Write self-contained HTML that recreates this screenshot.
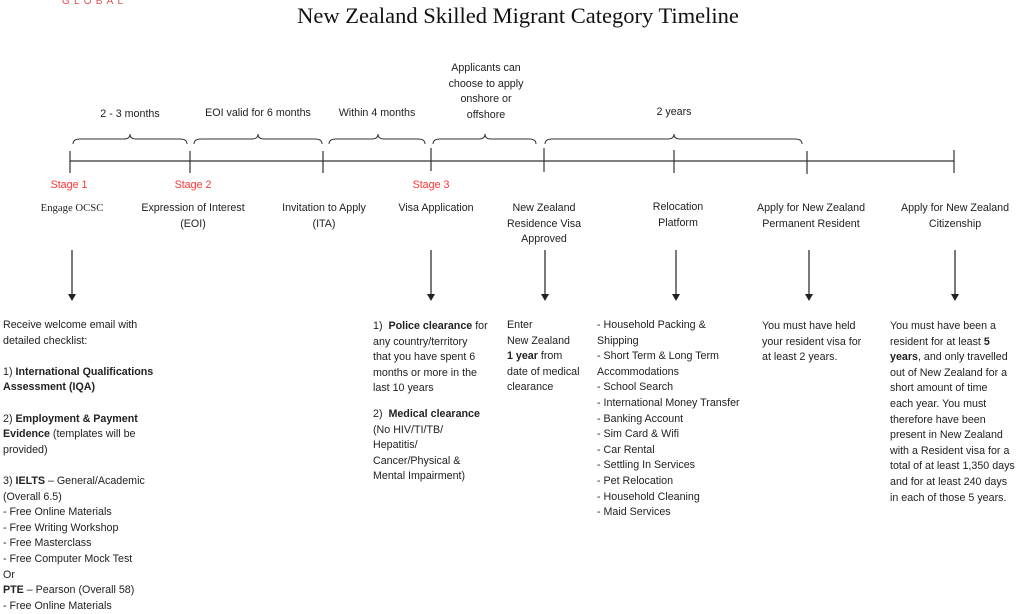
<!DOCTYPE html>
<html><head><meta charset="utf-8"><style>
body{margin:0;width:1024px;height:614px;background:#fff;position:relative;overflow:hidden;font-family:"Liberation Sans",sans-serif;font-size:10.7px;color:#222;}
.a{position:absolute;line-height:15.6px;white-space:nowrap;}
.c{text-align:center;transform:translateX(-50%);}
.r{color:#f33;}
b{font-weight:bold;}
</style></head><body>
<div class="a" style="left:62px;top:-6px;color:#d9534f;font-size:10px;letter-spacing:4.2px;">GLOBAL</div>
<div class="a c" style="left:518px;top:3px;font-family:'Liberation Serif',serif;font-size:22.5px;line-height:26px;color:#111;">New Zealand Skilled Migrant Category Timeline</div>

<svg style="position:absolute;left:0;top:0" width="1024" height="614">
<g stroke="#333" stroke-width="1.2" fill="none">
<line x1="70" y1="161" x2="954" y2="161"/>
<line x1="70" y1="151" x2="70" y2="173"/>
<line x1="190" y1="151" x2="190" y2="173"/>
<line x1="323" y1="151" x2="323" y2="173"/>
<line x1="431" y1="148" x2="431" y2="171"/>
<line x1="544" y1="148" x2="544" y2="172"/>
<line x1="674" y1="150" x2="674" y2="173"/>
<line x1="807" y1="151" x2="807" y2="174"/>
<line x1="954" y1="150" x2="954" y2="173"/>
</g>
<g stroke="#333" stroke-width="1" fill="none">
<path d="M73 144 Q73 139 80 139 L124 139 Q130 139 130 134 Q130 139 136 139 L180 139 Q187 139 187 144"/>
<path d="M194 144 Q194 139 201 139 L252 139 Q258 139 258 134 Q258 139 264 139 L315 139 Q322 139 322 144"/>
<path d="M329 144 Q329 139 336 139 L372 139 Q378 139 378 134 Q378 139 384 139 L418 139 Q425 139 425 144"/>
<path d="M433 144 Q433 139 440 139 L479 139 Q485 139 485 134 Q485 139 491 139 L529 139 Q536 139 536 144"/>
<path d="M545 144 Q545 139 552 139 L668 139 Q674 139 674 134 Q674 139 680 139 L795 139 Q802 139 802 144"/>
</g>
<g stroke="#222" stroke-width="1.2">
<line x1="72" y1="250" x2="72" y2="296"/>
<line x1="431" y1="250" x2="431" y2="296"/>
<line x1="545" y1="250" x2="545" y2="296"/>
<line x1="676" y1="250" x2="676" y2="296"/>
<line x1="809" y1="250" x2="809" y2="296"/>
<line x1="955" y1="250" x2="955" y2="296"/>
</g>
<g fill="#222">
<path d="M68 294 L76 294 L72 301Z"/><path d="M427 294 L435 294 L431 301Z"/>
<path d="M541 294 L549 294 L545 301Z"/><path d="M672 294 L680 294 L676 301Z"/>
<path d="M805 294 L813 294 L809 301Z"/><path d="M951 294 L959 294 L955 301Z"/>
</g>
</svg>

<div class="a c" style="left:130px;top:107px;">2 - 3 months</div>
<div class="a c" style="left:258px;top:106px;">EOI valid for 6 months</div>
<div class="a c" style="left:377px;top:106px;">Within 4 months</div>
<div class="a c" style="left:486px;top:61px;">Applicants can<br>choose to apply<br>onshore or<br>offshore</div>
<div class="a c" style="left:674px;top:105px;">2 years</div>

<div class="a c r" style="left:69px;top:178px;">Stage 1</div>
<div class="a c r" style="left:193px;top:178px;">Stage 2</div>
<div class="a c r" style="left:431px;top:178px;">Stage 3</div>

<div class="a c" style="left:72px;top:201px;font-family:'Liberation Serif',serif;">Engage OCSC</div>
<div class="a c" style="left:193px;top:201px;">Expression of Interest<br>(EOI)</div>
<div class="a c" style="left:324px;top:201px;">Invitation to Apply<br>(ITA)</div>
<div class="a c" style="left:436px;top:201px;">Visa Application</div>
<div class="a c" style="left:544px;top:201px;">New Zealand<br>Residence Visa<br>Approved</div>
<div class="a c" style="left:678px;top:200px;">Relocation<br>Platform</div>
<div class="a c" style="left:811px;top:201px;">Apply for New Zealand<br>Permanent Resident</div>
<div class="a c" style="left:955px;top:201px;">Apply for New Zealand<br>Citizenship</div>

<div class="a" style="left:3px;top:318px;">Receive welcome email with<br>detailed checklist:<br><br>1) <b>International Qualifications<br>Assessment (IQA)</b><br><br>2) <b>Employment &amp; Payment<br>Evidence</b> (templates will be<br>provided)<br><br>3) <b>IELTS</b> – General/Academic<br>(Overall 6.5)<br>- Free Online Materials<br>- Free Writing Workshop<br>- Free Masterclass<br>- Free Computer Mock Test<br>Or<br><b>PTE</b> – Pearson (Overall 58)<br>- Free Online Materials</div>

<div class="a" style="left:373px;top:319px;">1)&nbsp; <b>Police clearance</b> for<br>any country/territory<br>that you have spent 6<br>months or more in the<br>last 10 years</div>
<div class="a" style="left:373px;top:407px;">2)&nbsp; <b>Medical clearance</b><br>(No HIV/TI/TB/<br>Hepatitis/<br>Cancer/Physical &amp;<br>Mental Impairment)</div>

<div class="a" style="left:507px;top:318px;">Enter<br>New Zealand<br><b>1 year</b> from<br>date of medical<br>clearance</div>

<div class="a" style="left:597px;top:318px;">- Household Packing &amp;<br>Shipping<br>- Short Term &amp; Long Term<br>Accommodations<br>- School Search<br>- International Money Transfer<br>- Banking Account<br>- Sim Card &amp; Wifi<br>- Car Rental<br>- Settling In Services<br>- Pet Relocation<br>- Household Cleaning<br>- Maid Services</div>

<div class="a" style="left:762px;top:319px;">You must have held<br>your resident visa for<br>at least 2 years.</div>

<div class="a" style="left:890px;top:319px;">You must have been a<br>resident for at least <b>5<br>years</b>, and only travelled<br>out of New Zealand for a<br>short amount of time<br>each year. You must<br>therefore have been<br>present in New Zealand<br>with a Resident visa for a<br>total of at least 1,350 days<br>and for at least 240 days<br>in each of those 5 years.</div>
</body></html>
